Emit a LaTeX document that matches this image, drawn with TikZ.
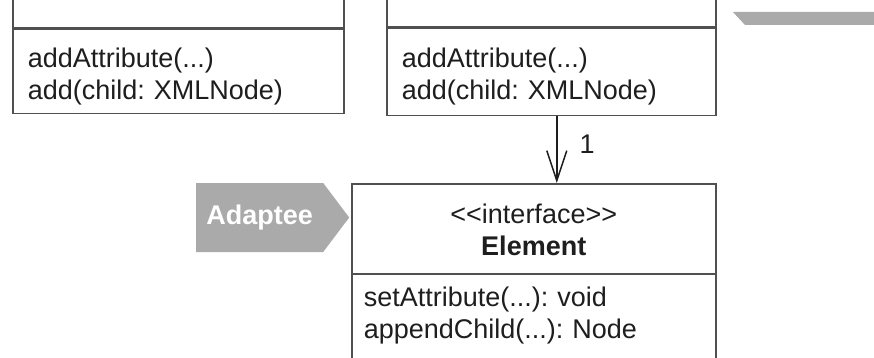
\documentclass[tikz,border=0pt]{standalone}
\usepackage{fontspec}
\setmainfont{Liberation Sans}
\usepackage{xcolor}
\usepackage{tikz}
\usetikzlibrary{positioning, arrows.meta, shapes.symbols}
\definecolor{umlline}{HTML}{505050}
\definecolor{umltext}{HTML}{1E1E1E}
\definecolor{tagfill}{HTML}{AAAAAA}
\frenchspacing

\begin{document}
\begin{tikzpicture}[
    font=\fontsize{27}{32}\selectfont,
    box/.style={rectangle, draw=umlline, line width=1.5pt, fill=white,
        text=umltext},
    namebox/.style={box, minimum width=#1, minimum height=60pt,
        anchor=south west},
    ops/.style={box, anchor=north west, align=left, text width=#1,
        inner xsep=15pt, inner ysep=0pt},
    hdr/.style={box, anchor=north west, align=center, text width=#1,
        inner xsep=10pt, inner ysep=0pt},
    tag/.style={signal, signal to=east, signal pointer angle=106,
        fill=tagfill, text=white, font=\fontsize{27}{32}\selectfont\bfseries,
        minimum width=153pt, minimum height=69pt, inner sep=0pt},
    assoc/.style={-{Straight Barb[length=30pt, width=20pt]},
        draw=umltext, line width=1.5pt},
    mult/.style={inner sep=0pt, text=umltext},
  ]
  \useasboundingbox (0pt,0pt) rectangle (874pt,-358pt);
  \clip (0pt,0pt) rectangle (874pt,-358pt);
  % upper classes, cut off at the top
  \node[namebox=331pt] (leftname) at (12pt,-29pt) {};
  \node[ops=301pt, text height=38pt, text depth=46pt] (leftops) at (12pt,-29pt) {addAttribute(...)\\add(child: XMLNode)};
  \node[namebox=329pt] (midname) at (386pt,-28pt) {};
  \node[ops=299pt, text height=39pt, text depth=48pt] (midops) at (386pt,-28pt) {addAttribute(...)\\add(child: XMLNode)};
  \fill[tagfill] (733pt,-12pt) -- (880pt,-12pt) -- (880pt,-25pt) -- (745pt,-25pt) -- cycle;
  % adaptee interface
  \node[hdr=344pt, text height=40pt, text depth=50pt] (elemname) at (351pt,-183pt) {<{}<interface>{}>\\\textbf{Element}};
  \node[ops=340pt, inner xsep=12pt, text height=33pt, text depth=90pt] (elemops) at (351pt,-273pt) {setAttribute(...): void\\appendChild(...): Node};
  \node[tag, anchor=west] (adaptee) at (196pt,-217.5pt) {Adaptee};
  \draw[assoc] ([xshift=5.5pt]midops.south) -- ([xshift=5.5pt]midops.south |- elemname.north)
    node[mult, pos=0.42, right=22pt] (mult1) {1};
\end{tikzpicture}
\end{document}
